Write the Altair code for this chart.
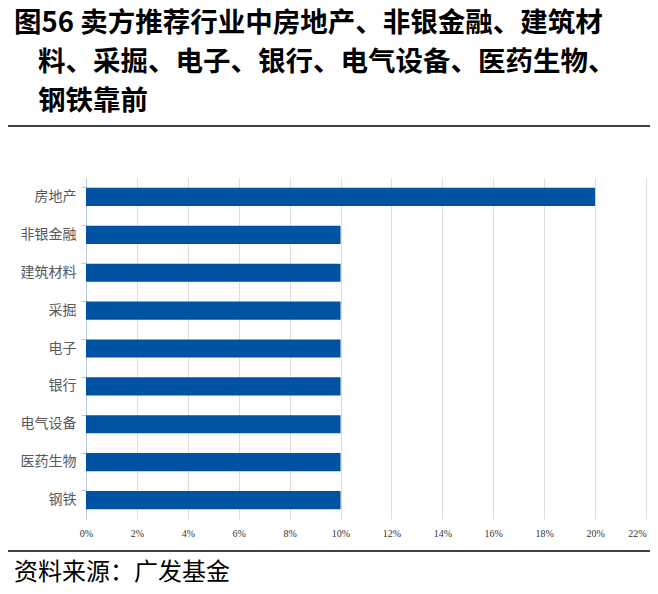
import altair as alt
import pandas as pd

categories = ["房地产", "非银金融", "建筑材料", "采掘", "电子", "银行", "电气设备", "医药生物", "钢铁"]
values = [0.20, 0.10, 0.10, 0.10, 0.10, 0.10, 0.10, 0.10, 0.10]
x_ticks = [0, 0.02, 0.04, 0.06, 0.08, 0.10, 0.12, 0.14, 0.16, 0.18, 0.20, 0.22]

title_lines = ["图56 卖方推荐行业中房地产、非银金融、建筑材", "料、采掘、电子、银行、电气设备、医药生物、", "钢铁靠前"]
source_text = "资料来源：广发基金"

df = pd.DataFrame({"industry": categories, "share": values})

W, H = 560, 341
PL, PT = 78, 170

bars = alt.Chart(df).mark_bar(color="#0052A2").encode(
    x=alt.X("share:Q",
            scale=alt.Scale(domain=[0, 0.22], nice=False),
            axis=alt.Axis(values=x_ticks, format=".0%", title=None, domain=False, ticks=False,
                          grid=True, gridColor="#DDDDDD", gridWidth=1,
                          labelFont="Liberation Serif", labelFontSize=10, labelColor="#333333",
                          labelPadding=9, labelFlush=False,
                          labelAlign={"condition": {"test": "datum.value >= 0.219", "value": "right"},
                                      "value": "center"})),
    y=alt.Y("industry:N", sort=categories,
            scale=alt.Scale(paddingInner=0.52, paddingOuter=0.26),
            axis=alt.Axis(title=None, domainColor="#B8C8E0", tickColor="#B8C8E0", tickSize=5,
                          bandPosition=0, labelFont="Noto Sans CJK SC", labelFontSize=14,
                          labelColor="#595959", labelPadding=5, grid=False)),
)

tdf = pd.DataFrame({"t": title_lines, "xpos": [14 - 8 - PL, 38 - 8 - PL, 38 - 8 - PL],
                    "ypos": [24 - 8 - PT, 63 - 8 - PT, 102 - 8 - PT]})
title = alt.Chart(tdf).mark_text(align="left", baseline="middle", font="Noto Sans CJK SC",
                                 fontSize=27.5, fontWeight="bold", color="#000000").encode(
    text="t:N",
    x=alt.X("xpos:Q", scale=None),
    y=alt.Y("ypos:Q", scale=None),
)

source = alt.Chart(pd.DataFrame({"t": [source_text]})).mark_text(
    align="left", baseline="middle", font="Noto Sans CJK SC", fontSize=24, color="#000000"
).encode(text="t:N", x=alt.value(14 - 8 - PL), y=alt.value(573 - 8 - PT))

rule_top = alt.Chart(pd.DataFrame({"a": [0]})).mark_rule(color="#000000", strokeWidth=1.5).encode(
    x=alt.value(-PL - 8), x2=alt.value(W + 20), y=alt.value(126 - 8 - PT))
rule_bot = alt.Chart(pd.DataFrame({"a": [0]})).mark_rule(color="#000000", strokeWidth=1.5).encode(
    x=alt.value(-PL - 8), x2=alt.value(W + 20), y=alt.value(551 - 8 - PT))

chart = alt.layer(bars, title, source, rule_top, rule_bot).properties(
    width=W, height=H,
    autosize=alt.AutoSizeParams(type="none"),
    padding={"left": PL, "top": PT, "right": 4, "bottom": 67},
).configure_view(stroke=None)

chart.save("out.html", embed_options={"renderer": "svg", "actions": False})
